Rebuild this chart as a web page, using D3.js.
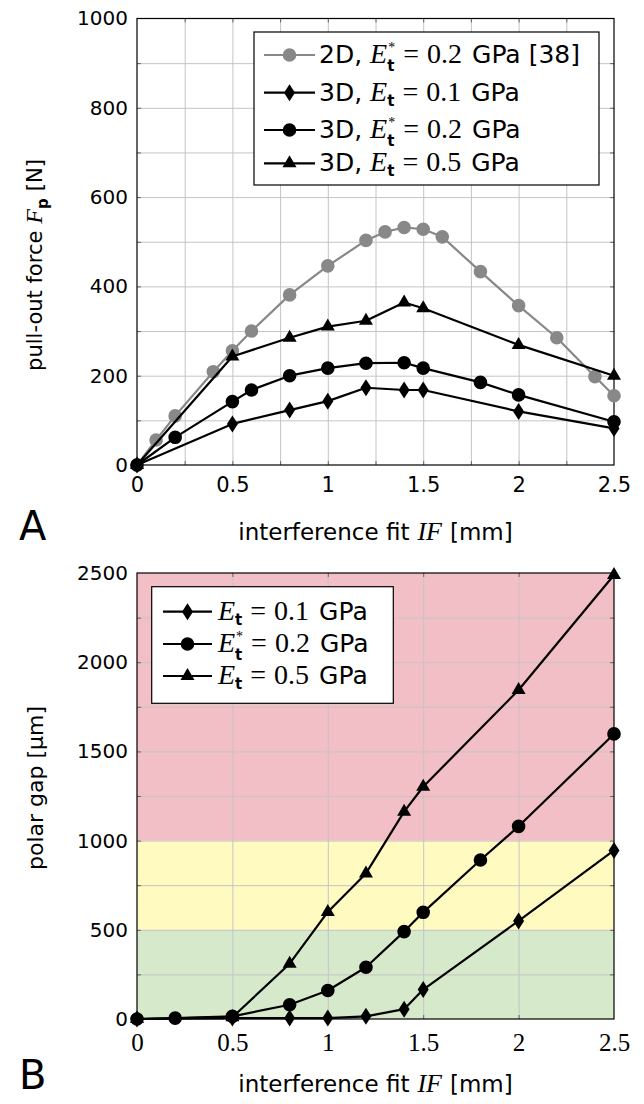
<!DOCTYPE html>
<html><head><meta charset="utf-8">
<script src="https://cdn.jsdelivr.net/npm/d3@7"></script>
<style>body{margin:0;background:#fff;}svg{display:block;}</style>
</head><body>
<svg id="chart" width="644" height="1104"></svg>
<script>
// ---------------- DATA ----------------
// Panel A: pull-out force [N] vs interference fit [mm]
const ifA_2D   = [0,0.1,0.2,0.4,0.5,0.6,0.8,1.0,1.2,1.3,1.4,1.5,1.6,1.8,2.0,2.2,2.4,2.5];
const fpA_2D   = [0,56,110,209,256,300,381,446,503,522,532,528,511,433,357,285,198,155];
const ifA_3D01 = [0,0.5,0.8,1.0,1.2,1.4,1.5,2.0,2.5];
const fpA_3D01 = [0,92,123,143,173,168,168,120,82];
const ifA_3D02 = [0,0.2,0.5,0.6,0.8,1.0,1.2,1.4,1.5,1.8,2.0,2.5];
const fpA_3D02 = [0,62,142,168,200,217,228,229,217,185,157,97];
const ifA_3D05 = [0,0.5,0.8,1.0,1.2,1.4,1.5,2.0,2.5];
const fpA_3D05 = [0,243,285,310,323,364,351,269,200];

// Panel B: polar gap [µm] vs interference fit [mm]
const ifB_01  = [0,0.5,0.8,1.0,1.2,1.4,1.5,2.0,2.5];
const gapB_01 = [0,5,5,5,15,55,165,550,945];
const ifB_02  = [0,0.2,0.5,0.8,1.0,1.2,1.4,1.5,1.8,2.0,2.5];
const gapB_02 = [0,5,15,80,160,290,490,598,891,1080,1598];
const ifB_05  = [0,0.5,0.8,1.0,1.2,1.4,1.5,2.0,2.5];
const gapB_05 = [0,10,310,600,816,1162,1302,1844,2489];

// Ticks / grid
const xTickLabels = [0,0.5,1,1.5,2,2.5];
const xGridA = [0.25,0.5,0.75,1,1.25,1.5,1.75,2,2.25];
const yTickA = [0,200,400,600,800,1000];
const yGridA = [100,200,300,400,500,600,700,800,900];
const xGridB = [0.5,1,1.5,2];
const yTickB = [0,500,1000,1500,2000,2500];
const yGridB = [250,500,750,1000,1250,1500,1750,2000,2250];
// Colour bands in panel B
const bandLo = [0,500,1000];
const bandHi = [500,1000,2500];
const bandColor = ["#d6e9cb","#fffac0","#f2bfc6"];

// ---------------- SETUP ----------------
const SANS = "'DejaVu Sans', sans-serif";
const SERIF = "'Liberation Serif', 'DejaVu Serif', serif";
const svg = d3.select("#chart");
svg.append("rect").attr("width",644).attr("height",1104).attr("fill","#fff");

const GRAY = "#888888";
const MARK = {
  circle: "M-6.8,0A6.8,6.8 0 1,0 6.8,0A6.8,6.8 0 1,0 -6.8,0Z",
  diamond: "M0,-8.5L5.5,0L0,8.5L-5.5,0Z",
  triangle: "M0,-8L7,4L-7,4Z"
};

function styleText(t, p){
  t.attr("font-family", p.fam).attr("font-size", p.size)
   .attr("font-style", p.italic ? "italic" : "normal")
   .attr("font-weight", p.bold ? "bold" : "normal")
   .attr("fill","#000");
}
function measure(p){
  const t = svg.append("text").text(p.t);
  styleText(t, p);
  const w = t.node().getComputedTextLength();
  t.remove();
  return w;
}
// rich text: one <text> with absolutely placed tspans
function rich(parent, x, y, pieces, anchor, rotate){
  const outer = parent.append("g").attr("transform", `translate(${x},${y})` + (rotate ? ` rotate(${rotate})` : ""));
  const items = [];
  let cx = 0;
  pieces.forEach(p => {
    if (p.gap !== undefined) { cx += p.gap; return; }
    if (p.sup !== undefined || p.sub !== undefined) {
      let w1 = 0, w2 = 0;
      if (p.sup) { const it = {t:p.sup, fam:SERIF, size:p.supSize, x:cx + 1, y:p.supDy}; items.push(it); w1 = measure(it) + 1; }
      if (p.sub) { const it = {t:p.sub, fam:SANS, size:p.subSize, bold:true, x:cx, y:p.subDy}; items.push(it); w2 = measure(it); }
      cx += Math.max(w1, w2);
      return;
    }
    items.push(Object.assign({}, p, {x:cx, y:0}));
    cx += measure(p);
  });
  const off = anchor === "middle" ? -cx/2 : 0;
  const text = outer.append("text");
  items.forEach(it => {
    const ts = text.append("tspan").attr("x", it.x + off).attr("y", it.y).text(it.t);
    styleText(ts, it);
  });
  return cx;
}
const S = (t,size)=>({t, fam:SANS, size});
const R = (t,size)=>({t, fam:SERIF, size});
const M = (t,size)=>({t, fam:SERIF, size, italic:true});
const G = (g)=>({gap:g});
const SUBT = {sub:"t", subSize:15, subDy:5};
const SUPSUBT = {sup:"*", supSize:14, supDy:-11, sub:"t", subSize:15, subDy:8};
const SUBP = {sub:"p", subSize:15, subDy:6};

function eqPieces(prefix, star, val){
  const a = [];
  if (prefix) { a.push(S(prefix,25)); a.push(G(8)); }
  a.push(M("E",28)); a.push(star ? SUPSUBT : SUBT);
  a.push(G(8)); a.push(R("=",28)); a.push(G(8)); a.push(R(val,28)); a.push(G(10));
  a.push(S("GPa",25));
  return a;
}

function panel(cfg){
  const g = svg.append("g");
  const x = d3.scaleLinear().domain([0,2.5]).range([cfg.left, cfg.right]);
  const y = d3.scaleLinear().domain(cfg.yDomain).range([cfg.bottom, cfg.top]);
  const h = cfg.bottom - cfg.top, w = cfg.right - cfg.left;

  if (cfg.bands) {
    g.selectAll(null).data(cfg.bands).join("rect")
      .attr("x", cfg.left).attr("width", w)
      .attr("y", d => y(d.hi)).attr("height", d => y(d.lo) - y(d.hi))
      .attr("fill", d => d.c);
  }
  // grid
  const gx = g.append("g").attr("transform", `translate(0,${cfg.bottom})`)
    .call(d3.axisBottom(x).tickValues(cfg.xGrid).tickSize(-h).tickFormat(""));
  const gy = g.append("g").attr("transform", `translate(${cfg.left},0)`)
    .call(d3.axisLeft(y).tickValues(cfg.yGrid).tickSize(-w).tickFormat(""));
  [gx, gy].forEach(a => { a.select(".domain").remove(); a.selectAll("line").attr("stroke","#c4c4c4").attr("stroke-width",1); });

  // inner ticks on all four sides
  const tks = [
    g.append("g").attr("transform", `translate(0,${cfg.bottom})`).call(d3.axisBottom(x).tickValues(cfg.xGrid).tickSize(-4).tickFormat("")),
    g.append("g").attr("transform", `translate(0,${cfg.top})`).call(d3.axisTop(x).tickValues(cfg.xGrid).tickSize(-4).tickFormat("")),
    g.append("g").attr("transform", `translate(${cfg.left},0)`).call(d3.axisLeft(y).tickValues(cfg.yGrid).tickSize(-4).tickFormat("")),
    g.append("g").attr("transform", `translate(${cfg.right},0)`).call(d3.axisRight(y).tickValues(cfg.yGrid).tickSize(-4).tickFormat(""))
  ];
  tks.forEach(a => { a.select(".domain").remove(); a.selectAll("line").attr("stroke","#666").attr("stroke-width",1); });

  // frame
  g.append("rect").attr("x", cfg.left).attr("y", cfg.top).attr("width", w).attr("height", h)
    .attr("fill","none").attr("stroke","#000").attr("stroke-width",1.2);

  // tick labels
  const xl = g.append("g").attr("transform", `translate(0,${cfg.bottom})`)
    .call(d3.axisBottom(x).tickValues(xTickLabels).tickSize(0).tickPadding(cfg.xPad).tickFormat(d3.format("")));
  xl.select(".domain").remove();
  xl.selectAll("text").attr("font-family", cfg.xFont).attr("font-size", cfg.xSize).attr("fill","#000");
  const yl = g.append("g").attr("transform", `translate(${cfg.left},0)`)
    .call(d3.axisLeft(y).tickValues(cfg.yTicks).tickSize(0).tickPadding(9).tickFormat(d3.format("")));
  yl.select(".domain").remove();
  yl.selectAll("text").attr("font-family", SANS).attr("font-size", 20).attr("fill","#000");

  // series
  cfg.series.forEach(s => {
    const pts = s.xs.map((v,i) => [x(v), y(s.ys[i])]);
    g.append("path").attr("d", d3.line()(pts)).attr("fill","none")
      .attr("stroke", s.color).attr("stroke-width", 2.2).attr("stroke-linejoin","round");
    g.selectAll(null).data(pts).join("path").attr("d", MARK[s.shape])
      .attr("transform", d => `translate(${d[0]},${d[1]})`).attr("fill", s.color);
  });

  // legend
  const L = cfg.legend;
  g.append("rect").attr("x", L.x0).attr("y", L.y0).attr("width", L.x1 - L.x0).attr("height", L.y1 - L.y0)
    .attr("fill","#fff").attr("stroke","#000").attr("stroke-width",1.2);
  cfg.series.forEach((s,i) => {
    const ry = L.rows[i];
    g.append("line").attr("x1", L.lx0).attr("x2", L.lx1).attr("y1", ry).attr("y2", ry)
      .attr("stroke", s.color).attr("stroke-width", 2.2);
    g.append("path").attr("d", MARK[s.shape]).attr("transform", `translate(${(L.lx0+L.lx1)/2},${ry})`).attr("fill", s.color);
    rich(g, L.tx, ry + 8, s.label);
  });

  // axis titles
  rich(g, (cfg.left+cfg.right)/2, cfg.xTitleY,
       [S("interference fit",23), G(8), M("IF",26), G(8), S("[mm]",23)], "middle");
  rich(g, cfg.yTitleX, cfg.yTitleC, cfg.yTitle, "middle", -90);
  // panel letter
  g.append("text").attr("x", 19).attr("y", cfg.letterY).text(cfg.letter)
    .attr("font-family", SANS).attr("font-size", 40).attr("fill","#000");
}

panel({
  left:137, right:614, top:18.5, bottom:465, yDomain:[0,1000],
  xGrid: xGridA, yGrid: yGridA, yTicks: yTickA,
  xFont: SANS, xSize: 21, xPad: 12,
  series: [
    {xs: ifA_2D, ys: fpA_2D, color: GRAY, shape: "circle", label: eqPieces("2D,", true, "0.2").concat([G(8), S("[38]",25)])},
    {xs: ifA_3D01, ys: fpA_3D01, color: "#000", shape: "diamond", label: eqPieces("3D,", false, "0.1")},
    {xs: ifA_3D02, ys: fpA_3D02, color: "#000", shape: "circle", label: eqPieces("3D,", true, "0.2")},
    {xs: ifA_3D05, ys: fpA_3D05, color: "#000", shape: "triangle", label: eqPieces("3D,", false, "0.5")}
  ],
  legend: {x0:254, y0:32, x1:599, y1:185, lx0:264, lx1:315, tx:319, rows:[55,92.7,130,163.3]},
  xTitleY: 540, yTitleX: 42, yTitleC: 265,
  yTitle: [S("pull-out force",21), G(7), M("F",24), SUBP, G(7), S("[N]",21)],
  letter: "A", letterY: 540
});

panel({
  left:137, right:614, top:573, bottom:1019, yDomain:[0,2500],
  bands: bandLo.map((lo,i) => ({lo, hi: bandHi[i], c: bandColor[i]})),
  xGrid: xGridB, yGrid: yGridB, yTicks: yTickB,
  xFont: SERIF, xSize: 25, xPad: 14,
  series: [
    {xs: ifB_01, ys: gapB_01, color: "#000", shape: "diamond", label: eqPieces(null, false, "0.1")},
    {xs: ifB_02, ys: gapB_02, color: "#000", shape: "circle", label: eqPieces(null, true, "0.2")},
    {xs: ifB_05, ys: gapB_05, color: "#000", shape: "triangle", label: eqPieces(null, false, "0.5")}
  ],
  legend: {x0:151.7, y0:586.7, x1:393.3, y1:703.3, lx0:163, lx1:212, tx:218, rows:[611.7,644,676]},
  xTitleY: 1092, yTitleX: 43, yTitleC: 788,
  yTitle: [S("polar gap [µm]",22)],
  letter: "B", letterY: 1089
});
</script>
</body></html>
